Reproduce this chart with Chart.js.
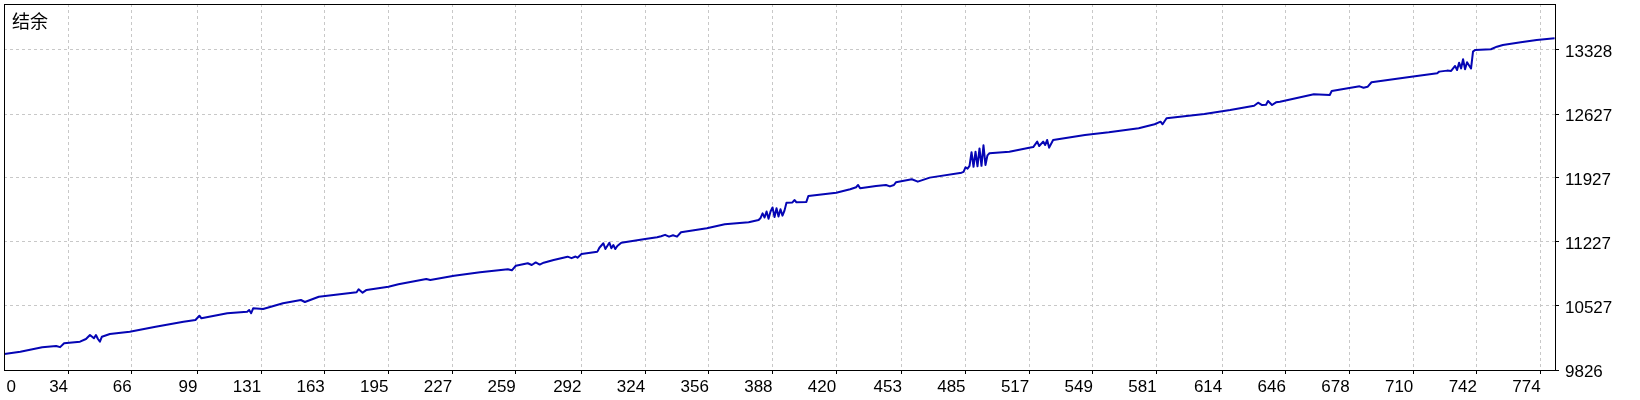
<!DOCTYPE html>
<html>
<head>
<meta charset="utf-8">
<script src="https://cdn.jsdelivr.net/npm/chart.js@4.4.1/dist/chart.umd.min.js"></script>
<style>
html,body{margin:0;padding:0;background:#fff;}
#wrap{width:1640px;height:400px;}
</style>
</head>
<body>
<div id="wrap"><canvas id="c" width="1640" height="400"></canvas></div>
<script>
// ---- data ----
const seriesTitle = '结余';
const tradeNo = [
  2,10,21,28,30,32,40,43,45,47,48,49,50,51,55,65,78,92,98,100,101,114,124,125,126,127,132,142,151,153,160,
  179,180,182,184,195,200,214,216,228,241,255,257,259,265,267,269,271,273,278,285,287,289,290,292,
  300,301,303,304,306,307,308,309,310,312,324,330,332,334,336,338,340,342,355,364,376,
  381,382,383,384,385,386,387,388,389,390,391,392,393,394,395,398,399,400,405,406,420,427,430,431,432,
  440,445,447,449,450,458,461,467,483,484,485,486,487,488,489,490,491,492,493,494,495,496,497,507,517,
  519,521,522,524,525,526,527,529,545,557,572,580,583,584,586,605,618,630,632,634,636,637,639,641,643,
  660,668,669,683,685,687,689,709,722,723,727,729,731,732,733,734,735,736,737,739,740,741,749,752,755,764,772,781
];
const balance = [
  10000,10026,10074,10089,10076,10118,10136,10165,10209,10173,10209,10165,10136,10190,10220,10245,10300,10355,10373,10420,10392,10447,10464,10483,10447,10501,10494,10556,10592,10570,10628,
  10676,10709,10672,10702,10738,10764,10822,10811,10858,10895,10928,10917,10967,10994,10975,11003,10980,11000,11030,11066,11050,11068,11055,11096,
  11121,11164,11213,11150,11219,11158,11194,11150,11183,11219,11260,11278,11290,11305,11285,11300,11285,11333,11377,11420,11442,
  11468,11490,11540,11495,11560,11480,11560,11605,11500,11595,11505,11585,11515,11570,11657,11660,11686,11662,11665,11730,11766,11804,11826,11851,11815,
  11840,11850,11835,11850,11880,11913,11887,11931,11985,11995,12045,12030,12060,12210,12050,12215,12055,12250,12060,12285,12070,12175,12198,12215,12259,
  12265,12325,12277,12325,12288,12343,12259,12343,12398,12427,12471,12515,12543,12515,12581,12628,12671,12718,12751,12725,12728,12770,12726,12755,12762,
  12843,12836,12879,12930,12915,12925,12975,13036,13073,13091,13102,13098,13153,13109,13189,13126,13226,13117,13194,13125,13310,13328,13336,13364,13383,13412,13438,13456
];
const xTickLabels = [0,34,66,99,131,163,195,227,259,292,324,356,388,420,453,485,517,549,581,614,646,678,710,742,774];
const yTickLabels = [9826,10527,11227,11927,12627,13328];
const xMin = 1.8, xMax = 781.2;
const yMin = 9826, yMax = 13831;

// ---- chart ----
const points = tradeNo.map((t, i) => ({x: t, y: balance[i]}));
const FONT = {family: '"Liberation Sans", Arial, sans-serif', size: 17};
const GRID = '#c8c8c8';
const ZERO_SHIFT = 6; // first label sits just inside the left frame

const framePlugin = {
  id: 'frame',
  afterDraw(chart) {
    const {ctx, chartArea: a} = chart;
    const l = Math.round(a.left) + 0.5, t = Math.round(a.top) + 0.5;
    const r = Math.round(a.right) + 0.5, b = Math.round(a.bottom) + 0.5;
    ctx.save();
    ctx.strokeStyle = '#000';
    ctx.lineWidth = 1;
    ctx.setLineDash([]);
    ctx.strokeRect(l, t, r - l, b - t);
    ctx.restore();
  }
};
const cornerTitle = {
  id: 'cornerTitle',
  afterDatasetsDraw(chart) {
    const {ctx, chartArea: a} = chart;
    ctx.save();
    ctx.font = '18px "Noto Sans CJK SC", sans-serif';
    ctx.fillStyle = '#000';
    ctx.textBaseline = 'top';
    ctx.textAlign = 'left';
    ctx.fillText(seriesTitle, a.left + 8, a.top + 8);
    ctx.restore();
  }
};

new Chart(document.getElementById('c'), {
  type: 'line',
  data: {
    datasets: [{
      label: seriesTitle,
      data: points,
      borderColor: '#0505b4',
      borderWidth: 2,
      pointRadius: 0,
      tension: 0,
      fill: false,
      borderJoinStyle: 'round'
    }]
  },
  options: {
    responsive: false,
    animation: false,
    devicePixelRatio: 1,
    layout: {padding: {left: 4, top: 4, right: 0, bottom: 0}},
    plugins: {legend: {display: false}, tooltip: {enabled: false}},
    scales: {
      x: {
        type: 'linear', position: 'bottom', min: xMin, max: xMax,
        afterBuildTicks: s => {
          s.ticks = xTickLabels.map((v, i) => ({value: i === 0 ? xMin + ZERO_SHIFT : v}));
        },
        afterFit: s => { s.height = 30; s.paddingLeft = 0; s.paddingRight = 0; },
        ticks: {
          align: 'end', maxRotation: 0, minRotation: 0, autoSkip: false,
          padding: 3, color: '#000', font: FONT,
          callback: (v, i) => String(xTickLabels[i])
        },
        grid: {
          color: c => c.index === 0 ? 'rgba(0,0,0,0)' : GRID,
          tickColor: c => c.index === 0 ? 'rgba(0,0,0,0)' : '#000',
          tickLength: 4, lineWidth: 1, tickBorderDash: []
        },
        border: {display: true, color: '#000', width: 1, dash: [3, 3]}
      },
      y: {
        type: 'linear', position: 'right', min: yMin, max: yMax,
        afterBuildTicks: s => { s.ticks = yTickLabels.map(v => ({value: v})); },
        afterFit: s => { s.width = 85; s.paddingTop = 0; s.paddingBottom = 0; },
        ticks: {
          padding: 6, color: '#000', font: FONT, labelOffset: 2, autoSkip: false,
          callback: v => String(v)
        },
        grid: {color: GRID, tickColor: '#000', tickLength: 4, lineWidth: 1, tickBorderDash: []},
        border: {display: true, color: '#000', width: 1, dash: [3, 3]}
      }
    }
  },
  plugins: [framePlugin, cornerTitle]
});
</script>
</body>
</html>
